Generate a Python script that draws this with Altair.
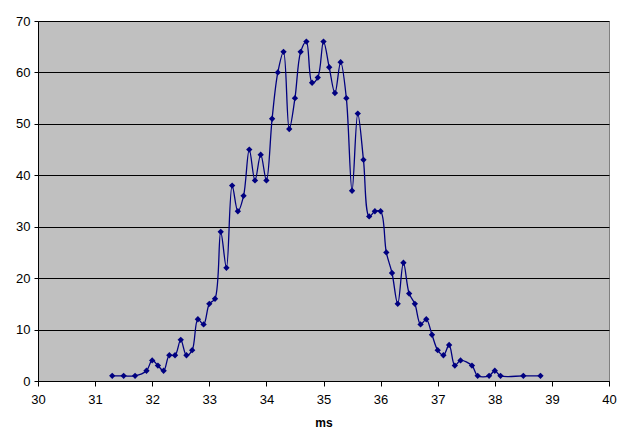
import altair as alt
import pandas as pd

ms = [31.3, 31.5, 31.7, 31.9, 32.0, 32.1, 32.2, 32.3, 32.4, 32.5, 32.6, 32.7, 32.8, 32.9,
      33.0, 33.1, 33.2, 33.3, 33.4, 33.5, 33.6, 33.7, 33.8, 33.9, 34.0, 34.1, 34.2, 34.3,
      34.4, 34.5, 34.6, 34.7, 34.8, 34.9, 35.0, 35.1, 35.2, 35.3, 35.4, 35.5, 35.6, 35.7,
      35.8, 35.9, 36.0, 36.1, 36.2, 36.3, 36.4, 36.5, 36.6, 36.7, 36.8, 36.9, 37.0, 37.1,
      37.2, 37.3, 37.4, 37.6, 37.7, 37.9, 38.0, 38.1, 38.5, 38.8]
counts = [1, 1, 1, 2, 4, 3, 2, 5, 5, 8, 5, 6, 12, 11,
          15, 16, 29, 22, 38, 33, 36, 45, 39, 44, 39, 51, 60, 64,
          49, 55, 64, 66, 58, 59, 66, 61, 56, 62, 55, 37, 52, 43,
          32, 33, 33, 25, 21, 15, 23, 17, 15, 11, 12, 9, 6, 5,
          7, 3, 4, 3, 1, 1, 2, 1, 1, 1]
x_ticks = list(range(30, 41))
y_ticks = list(range(0, 71, 10))

df = pd.DataFrame({"ms": ms, "count": counts})

FONT = "Liberation Sans"
NAVY = "#000080"

x = alt.X("ms:Q", title="ms",
          scale=alt.Scale(domain=[30, 40], nice=False, zero=False),
          axis=alt.Axis(values=x_ticks, grid=False, domainColor="black", tickColor="black",
                        tickSize=5, labelFontSize=13, labelFont=FONT, labelColor="black",
                        labelPadding=7, titleFont=FONT, titleFontSize=12, titleFontWeight="bold",
                        titleColor="black", titlePadding=11, labelFlush=False))
y = alt.Y("count:Q", title=None,
          scale=alt.Scale(domain=[0, 70], nice=False),
          axis=alt.Axis(values=y_ticks, grid=True, gridColor="black", gridWidth=1.2,
                        domainColor="black", tickColor="black", tickSize=4,
                        labelFontSize=13, labelFont=FONT, labelColor="black", labelPadding=4))

line = alt.Chart(df).mark_line(color=NAVY, strokeWidth=1.3, interpolate="catmull-rom").encode(x=x, y=y)
pts = alt.Chart(df).mark_point(shape="diamond", filled=True, color=NAVY, size=40, opacity=1).encode(x=x, y=y)

chart = (line + pts).properties(
    width=571, height=360,
    autosize=alt.AutoSizeParams(type="none"),
    padding={"left": 30, "top": 13, "right": 8, "bottom": 50},
    background="white",
).configure_view(fill="#C0C0C0", stroke="#808080", strokeWidth=1)

chart.save("out.html", embed_options={"renderer": "svg", "actions": False})
